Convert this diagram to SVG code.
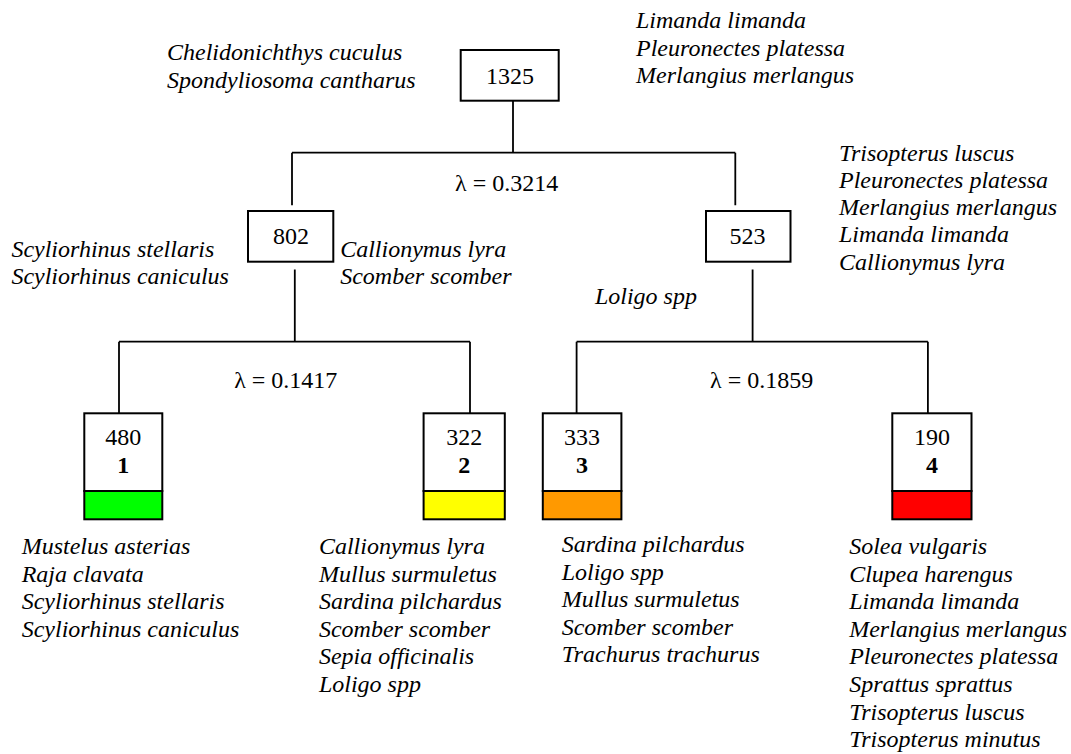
<svg xmlns="http://www.w3.org/2000/svg" width="1071" height="754" viewBox="0 0 1071 754">
<style>
  .box { fill: #ffffff; stroke: #000000; stroke-width: 2; }
  .line { fill: none; stroke: #000000; stroke-width: 1.8; }
  .num { font-family: "Liberation Serif", "Times New Roman", Tinos, "DejaVu Serif", serif; font-size: 24px; fill: #000000; text-anchor: middle; }
  .grp { font-family: "Liberation Serif", "Times New Roman", Tinos, "DejaVu Serif", serif; font-size: 24px; font-weight: bold; fill: #000000; text-anchor: middle; }
  .lam { font-family: "Liberation Serif", "Times New Roman", Tinos, "DejaVu Serif", serif; font-size: 24px; fill: #000000; }
  .sp { font-family: "Liberation Serif", "Times New Roman", Tinos, "DejaVu Serif", serif; font-size: 24px; font-style: italic; fill: #000000; }
</style>
<rect x="0" y="0" width="1071" height="754" fill="#ffffff"/>

<g id="connectors">
  <path class="line" d="M513,100.7 V152.7 M292,152.7 H735.3 M292,152.7 V205.3 M735.3,152.7 V205.3"/>
  <path class="line" d="M294.8,269.4 V341.7 M119,341.7 H470 M119,341.7 V413.3 M470,341.7 V413.3"/>
  <path class="line" d="M752.6,269.4 V341.7 M576.6,341.7 H927.9 M576.6,341.7 V413.3 M927.9,341.7 V413.3"/>
</g>

<g id="node-1325">
  <rect class="box" x="460.7" y="50" width="98" height="50.7"/>
  <text class="num" x="510" y="84.3">1325</text>
</g>
<g id="node-802">
  <rect class="box" x="248" y="211" width="85.3" height="50.7"/>
  <text class="num" x="291" y="244">802</text>
</g>
<g id="node-523">
  <rect class="box" x="706" y="211" width="84.5" height="50.7"/>
  <text class="num" x="747.4" y="244">523</text>
</g>
<g id="node-480">
  <rect class="box" x="84.3" y="413.3" width="78" height="77.7"/>
  <rect class="box" x="84.3" y="491" width="78" height="28.3" style="fill:#00ff00"/>
  <text class="num" x="123.3" y="445">480</text>
  <text class="grp" x="123.3" y="473.3">1</text>
</g>
<g id="node-322">
  <rect class="box" x="423.6" y="413.3" width="81.2" height="77.7"/>
  <rect class="box" x="423.6" y="491" width="81.2" height="28.3" style="fill:#ffff00"/>
  <text class="num" x="464.2" y="445">322</text>
  <text class="grp" x="464.2" y="473.3">2</text>
</g>
<g id="node-333">
  <rect class="box" x="542.8" y="413.3" width="78.6" height="77.7"/>
  <rect class="box" x="542.8" y="491" width="78.6" height="28.3" style="fill:#ff9900"/>
  <text class="num" x="582" y="445">333</text>
  <text class="grp" x="582" y="473.3">3</text>
</g>
<g id="node-190">
  <rect class="box" x="892.3" y="413.3" width="79.2" height="77.7"/>
  <rect class="box" x="892.3" y="491" width="79.2" height="28.3" style="fill:#ff0000"/>
  <text class="num" x="932" y="445">190</text>
  <text class="grp" x="932" y="473.3">4</text>
</g>

<g id="lambda-labels">
  <text class="lam" x="455" y="191">λ = 0.3214</text>
  <text class="lam" x="234.2" y="388.4">λ = 0.1417</text>
  <text class="lam" x="710.1" y="388.4">λ = 0.1859</text>
</g>

<g id="species-labels">
  <text class="sp" x="167" y="60">Chelidonichthys cuculus</text>
  <text class="sp" x="167" y="87.6">Spondyliosoma cantharus</text>

  <text class="sp" x="636" y="28">Limanda limanda</text>
  <text class="sp" x="636" y="55.6">Pleuronectes platessa</text>
  <text class="sp" x="636" y="83.2">Merlangius merlangus</text>

  <text class="sp" x="839" y="160.5">Trisopterus luscus</text>
  <text class="sp" x="839" y="187.8">Pleuronectes platessa</text>
  <text class="sp" x="839" y="215.1">Merlangius merlangus</text>
  <text class="sp" x="839" y="242.4">Limanda limanda</text>
  <text class="sp" x="839" y="269.7">Callionymus lyra</text>

  <text class="sp" x="11.4" y="256.5">Scyliorhinus stellaris</text>
  <text class="sp" x="11.4" y="284.1">Scyliorhinus caniculus</text>

  <text class="sp" x="340.2" y="256.5">Callionymus lyra</text>
  <text class="sp" x="340.2" y="284.1">Scomber scomber</text>

  <text class="sp" x="594.9" y="303.9">Loligo spp</text>

  <text class="sp" x="21.7" y="554">Mustelus asterias</text>
  <text class="sp" x="21.7" y="581.6">Raja clavata</text>
  <text class="sp" x="21.7" y="609.2">Scyliorhinus stellaris</text>
  <text class="sp" x="21.7" y="636.8">Scyliorhinus caniculus</text>

  <text class="sp" x="318.9" y="554">Callionymus lyra</text>
  <text class="sp" x="318.9" y="581.6">Mullus surmuletus</text>
  <text class="sp" x="318.9" y="609.2">Sardina pilchardus</text>
  <text class="sp" x="318.9" y="636.8">Scomber scomber</text>
  <text class="sp" x="318.9" y="664.4">Sepia officinalis</text>
  <text class="sp" x="318.9" y="692">Loligo spp</text>

  <text class="sp" x="561.7" y="552">Sardina pilchardus</text>
  <text class="sp" x="561.7" y="579.6">Loligo spp</text>
  <text class="sp" x="561.7" y="607.2">Mullus surmuletus</text>
  <text class="sp" x="561.7" y="634.8">Scomber scomber</text>
  <text class="sp" x="561.7" y="662.4">Trachurus trachurus</text>

  <text class="sp" x="849.2" y="554">Solea vulgaris</text>
  <text class="sp" x="849.2" y="581.6">Clupea harengus</text>
  <text class="sp" x="849.2" y="609.2">Limanda limanda</text>
  <text class="sp" x="849.2" y="636.8">Merlangius merlangus</text>
  <text class="sp" x="849.2" y="664.4">Pleuronectes platessa</text>
  <text class="sp" x="849.2" y="692">Sprattus sprattus</text>
  <text class="sp" x="849.2" y="719.6">Trisopterus luscus</text>
  <text class="sp" x="849.2" y="747.2">Trisopterus minutus</text>
</g>
</svg>
